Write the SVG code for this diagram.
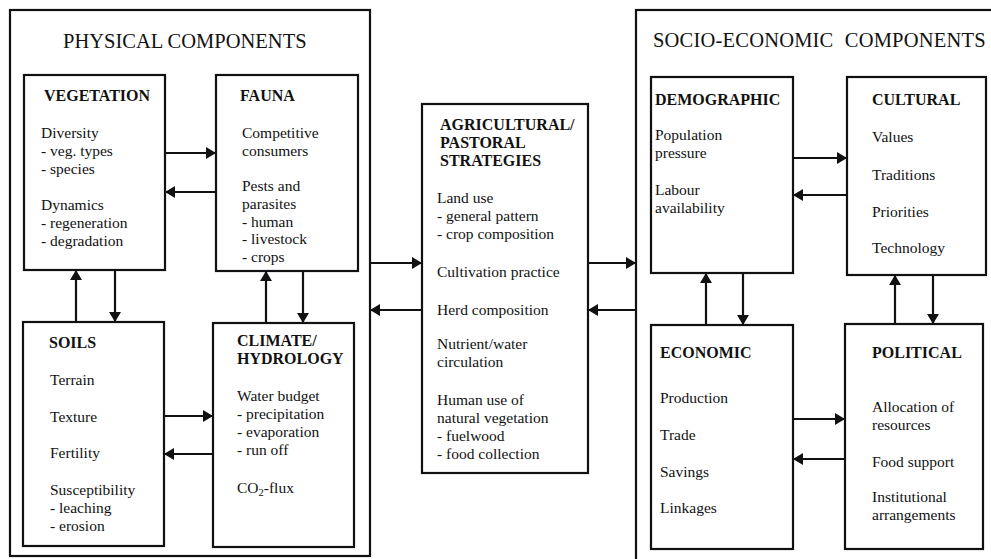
<svg xmlns="http://www.w3.org/2000/svg" width="991" height="559" viewBox="0 0 991 559">
<style>
  .box{fill:none;stroke:#111;stroke-width:2.2}
  .ln{fill:none;stroke:#111;stroke-width:2.2;marker-end:url(#ah)}
  text{font-family:"Liberation Serif","Times New Roman",serif;fill:#111}
  .t{font-size:20.5px}
  .h{font-size:16px;font-weight:bold}
  .b{font-size:15.5px}
</style>
<defs>
  <marker id="ah" markerUnits="userSpaceOnUse" markerWidth="10" markerHeight="12" refX="9" refY="6" orient="auto">
    <path d="M0,0 L10,6 L0,12 z" fill="#111"/>
  </marker>
</defs>
<rect width="991" height="559" fill="#fff"/>

<g id="physical">
  <rect class="box" x="10" y="10" width="360" height="546"/>
  <text class="t" x="63" y="48">PHYSICAL COMPONENTS</text>
</g>

<g id="vegetation">
  <rect class="box" x="24" y="75" width="141" height="195"/>
  <text class="h" x="44" y="101">VEGETATION</text>
  <text class="b" x="41" y="138">Diversity</text>
  <text class="b" x="41" y="156">- veg. types</text>
  <text class="b" x="41" y="174">- species</text>
  <text class="b" x="41" y="210">Dynamics</text>
  <text class="b" x="41" y="228">- regeneration</text>
  <text class="b" x="41" y="246">- degradation</text>
</g>

<g id="fauna">
  <rect class="box" x="216" y="75" width="142" height="196"/>
  <text class="h" x="240" y="101">FAUNA</text>
  <text class="b" x="242" y="138">Competitive</text>
  <text class="b" x="242" y="156">consumers</text>
  <text class="b" x="242" y="191">Pests and</text>
  <text class="b" x="242" y="209">parasites</text>
  <text class="b" x="242" y="226.5">- human</text>
  <text class="b" x="242" y="244">- livestock</text>
  <text class="b" x="242" y="261.5">- crops</text>
</g>

<g id="soils">
  <rect class="box" x="23" y="322" width="141" height="224"/>
  <text class="h" x="49" y="348">SOILS</text>
  <text class="b" x="50" y="385">Terrain</text>
  <text class="b" x="50" y="422">Texture</text>
  <text class="b" x="50" y="458">Fertility</text>
  <text class="b" x="50" y="495">Susceptibility</text>
  <text class="b" x="50" y="513">- leaching</text>
  <text class="b" x="50" y="531">- erosion</text>
</g>

<g id="climate">
  <rect class="box" x="213" y="323" width="141" height="224"/>
  <text class="h" x="237" y="346">CLIMATE/</text>
  <text class="h" x="237" y="364">HYDROLOGY</text>
  <text class="b" x="237" y="401">Water budget</text>
  <text class="b" x="237" y="419">- precipitation</text>
  <text class="b" x="237" y="437">- evaporation</text>
  <text class="b" x="237" y="455">- run off</text>
  <text class="b" x="237" y="493">CO<tspan font-size="10.5" dy="3">2</tspan><tspan dy="-3">-flux</tspan></text>
</g>

<g id="strategies">
  <rect class="box" x="422" y="104" width="166" height="369"/>
  <text class="h" x="440" y="130">AGRICULTURAL/</text>
  <text class="h" x="440" y="148">PASTORAL</text>
  <text class="h" x="440" y="166">STRATEGIES</text>
  <text class="b" x="437" y="203">Land use</text>
  <text class="b" x="437" y="221">- general pattern</text>
  <text class="b" x="437" y="239">- crop composition</text>
  <text class="b" x="437" y="277">Cultivation practice</text>
  <text class="b" x="437" y="315">Herd composition</text>
  <text class="b" x="437" y="349">Nutrient/water</text>
  <text class="b" x="437" y="367">circulation</text>
  <text class="b" x="437" y="405">Human use of</text>
  <text class="b" x="437" y="423">natural vegetation</text>
  <text class="b" x="437" y="441">- fuelwood</text>
  <text class="b" x="437" y="459">- food collection</text>
</g>

<g id="socio">
  <rect class="box" x="636" y="10" width="370" height="570"/>
  <text class="t" x="653" y="47" letter-spacing="0.2" word-spacing="6">SOCIO-ECONOMIC COMPONENTS</text>
</g>

<g id="demographic">
  <rect class="box" x="651" y="77" width="142" height="196"/>
  <text class="h" x="655" y="105">DEMOGRAPHIC</text>
  <text class="b" x="655" y="140">Population</text>
  <text class="b" x="655" y="158">pressure</text>
  <text class="b" x="655" y="195">Labour</text>
  <text class="b" x="655" y="213">availability</text>
</g>

<g id="cultural">
  <rect class="box" x="847" y="77" width="139" height="198"/>
  <text class="h" x="872" y="105">CULTURAL</text>
  <text class="b" x="872" y="142">Values</text>
  <text class="b" x="872" y="180">Traditions</text>
  <text class="b" x="872" y="217">Priorities</text>
  <text class="b" x="872" y="253">Technology</text>
</g>

<g id="economic">
  <rect class="box" x="651" y="325" width="142" height="224"/>
  <text class="h" x="660" y="358">ECONOMIC</text>
  <text class="b" x="660" y="403">Production</text>
  <text class="b" x="660" y="440">Trade</text>
  <text class="b" x="660" y="477">Savings</text>
  <text class="b" x="660" y="513">Linkages</text>
</g>

<g id="political">
  <rect class="box" x="845" y="324" width="138" height="225"/>
  <text class="h" x="872" y="358">POLITICAL</text>
  <text class="b" x="872" y="412">Allocation of</text>
  <text class="b" x="872" y="430">resources</text>
  <text class="b" x="872" y="467">Food support</text>
  <text class="b" x="872" y="502">Institutional</text>
  <text class="b" x="872" y="520">arrangements</text>
</g>

<g id="connectors">
  <line class="ln" x1="165" y1="153" x2="215" y2="153"/>
  <line class="ln" x1="216" y1="192" x2="166" y2="192"/>
  <line class="ln" x1="76" y1="322" x2="76" y2="271"/>
  <line class="ln" x1="115" y1="270" x2="115" y2="321"/>
  <line class="ln" x1="266" y1="323" x2="266" y2="272"/>
  <line class="ln" x1="303" y1="271" x2="303" y2="322"/>
  <line class="ln" x1="164" y1="416" x2="212" y2="416"/>
  <line class="ln" x1="213" y1="454" x2="165" y2="454"/>
  <line class="ln" x1="370" y1="263" x2="421" y2="263"/>
  <line class="ln" x1="422" y1="310" x2="371" y2="310"/>
  <line class="ln" x1="588" y1="263" x2="635" y2="263"/>
  <line class="ln" x1="636" y1="310" x2="589" y2="310"/>
  <line class="ln" x1="793" y1="158" x2="846" y2="158"/>
  <line class="ln" x1="847" y1="195" x2="794" y2="195"/>
  <line class="ln" x1="706" y1="325" x2="706" y2="274"/>
  <line class="ln" x1="743" y1="273" x2="743" y2="324"/>
  <line class="ln" x1="895" y1="324" x2="895" y2="276"/>
  <line class="ln" x1="933" y1="275" x2="933" y2="323"/>
  <line class="ln" x1="793" y1="419" x2="844" y2="419"/>
  <line class="ln" x1="845" y1="459" x2="794" y2="459"/>
</g>
</svg>
